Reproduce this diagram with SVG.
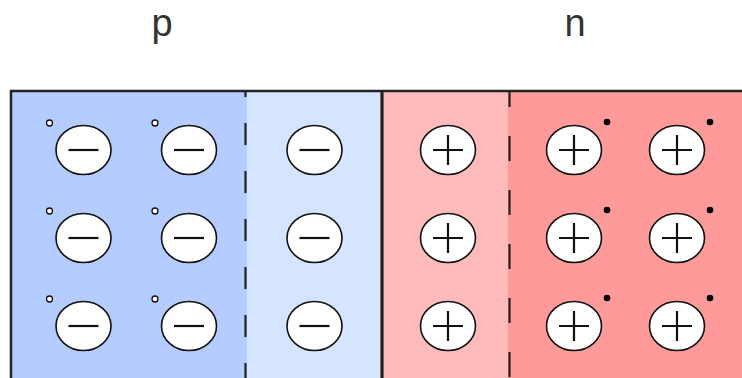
<svg xmlns="http://www.w3.org/2000/svg" xmlns:xlink="http://www.w3.org/1999/xlink" width="742" height="378" viewBox="0 0 742 378">
<style>
.lbl{font-family:"Liberation Sans",Arial,sans-serif;font-size:38px;fill:#333;text-anchor:middle}
.ion{fill:#fff;stroke:#111;stroke-width:1.6}
.sign{stroke:#111;stroke-width:2.2;fill:none}
.hole{fill:#fff;stroke:#111;stroke-width:1.3}
.elec{fill:#000}
.border{stroke:#222;fill:none}
.dash{stroke:#222;stroke-width:2.2;fill:none}
</style>
<defs>
<g id="neg"><ellipse class="ion" cx="0" cy="0" rx="27.5" ry="24.5"/><path class="sign" d="M-15,0H15"/></g>
<g id="pos"><ellipse class="ion" cx="0" cy="0" rx="27.5" ry="24.5"/><path class="sign" d="M-15,0H15M0,-15V15"/></g>
<circle id="h" class="hole" cx="-34" cy="-27" r="3"/>
<circle id="e" class="elec" cx="33" cy="-28" r="3.3"/>
</defs>
<rect width="742" height="378" fill="#fff"/>
<g id="regions">
<rect x="11" y="91" width="236" height="287" fill="#b4ccff"/>
<rect x="247" y="91" width="135" height="287" fill="#d5e4ff"/>
<rect x="382" y="91" width="126" height="287" fill="#ffbbbb"/>
<rect x="508" y="91" width="234" height="287" fill="#ff9a9a"/>
</g>
<g id="labels">
<text class="lbl" x="162" y="36">p</text>
<text class="lbl" x="575" y="36">n</text>
</g>
<g id="connectors">
<path class="border" stroke-width="2.5" d="M10,91H742"/>
<path class="border" stroke-width="2.5" d="M11,90V378"/>
<path class="border" stroke-width="3.2" d="M382,91V378"/>
<path class="dash" stroke-dasharray="22 26" stroke-dashoffset="16" d="M245.5,91V378"/>
<path class="dash" stroke-dasharray="25 29" stroke-dashoffset="9" d="M509.5,91V378"/>
</g>
<g id="ion-p-1-1" transform="translate(83.5,150)"><use xlink:href="#neg"/><use xlink:href="#h"/></g>
<g id="ion-p-1-2" transform="translate(189,150)"><use xlink:href="#neg"/><use xlink:href="#h"/></g>
<g id="ion-p-1-3" transform="translate(314.5,150)"><use xlink:href="#neg"/></g>
<g id="ion-n-1-1" transform="translate(448,150)"><use xlink:href="#pos"/></g>
<g id="ion-n-1-2" transform="translate(574,150)"><use xlink:href="#pos"/><use xlink:href="#e"/></g>
<g id="ion-n-1-3" transform="translate(677,150)"><use xlink:href="#pos"/><use xlink:href="#e"/></g>
<g id="ion-p-2-1" transform="translate(83.5,238)"><use xlink:href="#neg"/><use xlink:href="#h"/></g>
<g id="ion-p-2-2" transform="translate(189,238)"><use xlink:href="#neg"/><use xlink:href="#h"/></g>
<g id="ion-p-2-3" transform="translate(314.5,238)"><use xlink:href="#neg"/></g>
<g id="ion-n-2-1" transform="translate(448,238)"><use xlink:href="#pos"/></g>
<g id="ion-n-2-2" transform="translate(574,238)"><use xlink:href="#pos"/><use xlink:href="#e"/></g>
<g id="ion-n-2-3" transform="translate(677,238)"><use xlink:href="#pos"/><use xlink:href="#e"/></g>
<g id="ion-p-3-1" transform="translate(83.5,326)"><use xlink:href="#neg"/><use xlink:href="#h"/></g>
<g id="ion-p-3-2" transform="translate(189,326)"><use xlink:href="#neg"/><use xlink:href="#h"/></g>
<g id="ion-p-3-3" transform="translate(314.5,326)"><use xlink:href="#neg"/></g>
<g id="ion-n-3-1" transform="translate(448,326)"><use xlink:href="#pos"/></g>
<g id="ion-n-3-2" transform="translate(574,326)"><use xlink:href="#pos"/><use xlink:href="#e"/></g>
<g id="ion-n-3-3" transform="translate(677,326)"><use xlink:href="#pos"/><use xlink:href="#e"/></g>
</svg>
